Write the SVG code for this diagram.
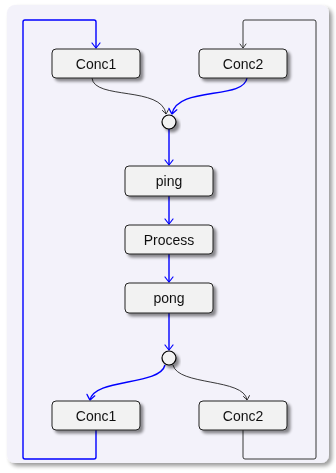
<svg xmlns="http://www.w3.org/2000/svg" width="336" height="473" viewBox="0 0 336 473">
<defs>
<filter id="sh" x="-20%" y="-20%" width="150%" height="160%">
<feGaussianBlur in="SourceAlpha" stdDeviation="1.5"/>
<feOffset dx="2.5" dy="2.5" result="b"/>
<feComponentTransfer><feFuncA type="linear" slope="0.45"/></feComponentTransfer>
<feMerge><feMergeNode/><feMergeNode in="SourceGraphic"/></feMerge>
</filter>
<filter id="psh" x="-5%" y="-5%" width="115%" height="115%">
<feGaussianBlur in="SourceAlpha" stdDeviation="2"/>
<feOffset dx="3" dy="3" result="b"/>
<feComponentTransfer><feFuncA type="linear" slope="0.4"/></feComponentTransfer>
<feMerge><feMergeNode/><feMergeNode in="SourceGraphic"/></feMerge>
</filter>
<marker id="ab" viewBox="-6 -5 8 10" markerWidth="8" markerHeight="10" refX="0" refY="0" orient="auto" markerUnits="userSpaceOnUse">
<path d="M-5,-4 Q-1,-1 0,0 Q-1,1 -5,4" fill="none" stroke="#0000ff" stroke-width="1.2" stroke-linecap="round"/>
</marker>
<marker id="ak" viewBox="-6 -5 8 10" markerWidth="8" markerHeight="10" refX="0" refY="0" orient="auto" markerUnits="userSpaceOnUse">
<path d="M-4,-3 Q-1,-1 0,0 Q-1,1 -4,3" fill="none" stroke="#222" stroke-width="0.9" stroke-linecap="round"/>
</marker>
</defs>
<style>
.node rect{fill:#f2f2f2;stroke:#222;stroke-width:1;}
.node text{font-family:"Liberation Sans",Arial,sans-serif;font-size:14px;fill:#111;text-anchor:middle;dominant-baseline:central;}
.blue{fill:none;stroke:#0000ff;stroke-width:1.4;}
.blk{fill:none;stroke:#222;stroke-width:0.9;}
.jn{fill:#f2f2f2;stroke:#000;stroke-width:1.2;}
</style>
<rect x="7" y="5" width="322" height="458" rx="8" fill="#f3f2fa" filter="url(#psh)"/>
<g id="connectors">
<path class="blue" d="M96,430 V457 Q96,459 94,459 H25 Q23,459 23,457 V22 Q23,20 25,20 H94 Q96,20 96,22 V48" marker-end="url(#ab)"/>
<path class="blk" d="M243,430 V457 Q243,459 245,459 H314 Q316,459 316,457 V22 Q316,20 314,20 H245 Q243,20 243,22 V48" marker-end="url(#ak)"/>
<path class="blk" d="M92,78 C94,100 162,86 166,114" marker-end="url(#ak)"/>
<path class="blue" d="M247,78 C244,100 177,86 172,114" marker-end="url(#ab)"/>
<path class="blue" d="M169,129 V165" marker-end="url(#ab)"/>
<path class="blue" d="M169,196 V224" marker-end="url(#ab)"/>
<path class="blue" d="M169,254 V282" marker-end="url(#ab)"/>
<path class="blue" d="M169,313 V350" marker-end="url(#ab)"/>
<path class="blue" d="M165,365 C160,386 94,378 90,400" marker-end="url(#ab)"/>
<path class="blk" d="M173,365 C178,386 244,378 247,400" marker-end="url(#ak)"/>
</g>
<g id="join1" filter="url(#sh)"><circle class="jn" cx="169" cy="122" r="7"/></g>
<g id="join2" filter="url(#sh)"><circle class="jn" cx="169" cy="358" r="7"/></g>
<g id="conc1-top" class="node" filter="url(#sh)"><rect x="52" y="49" width="88" height="29" rx="4"/><text x="96" y="63.5">Conc1</text></g>
<g id="conc2-top" class="node" filter="url(#sh)"><rect x="199" y="49" width="88" height="29" rx="4"/><text x="243" y="63.5">Conc2</text></g>
<g id="ping" class="node" filter="url(#sh)"><rect x="125" y="166" width="88" height="30" rx="4"/><text x="169" y="181">ping</text></g>
<g id="process" class="node" filter="url(#sh)"><rect x="125" y="225" width="88" height="29" rx="4"/><text x="169" y="239.5">Process</text></g>
<g id="pong" class="node" filter="url(#sh)"><rect x="125" y="283" width="88" height="30" rx="4"/><text x="169" y="298">pong</text></g>
<g id="conc1-bottom" class="node" filter="url(#sh)"><rect x="52" y="401" width="88" height="29" rx="4"/><text x="96" y="415.5">Conc1</text></g>
<g id="conc2-bottom" class="node" filter="url(#sh)"><rect x="199" y="401" width="88" height="29" rx="4"/><text x="243" y="415.5">Conc2</text></g>
</svg>
